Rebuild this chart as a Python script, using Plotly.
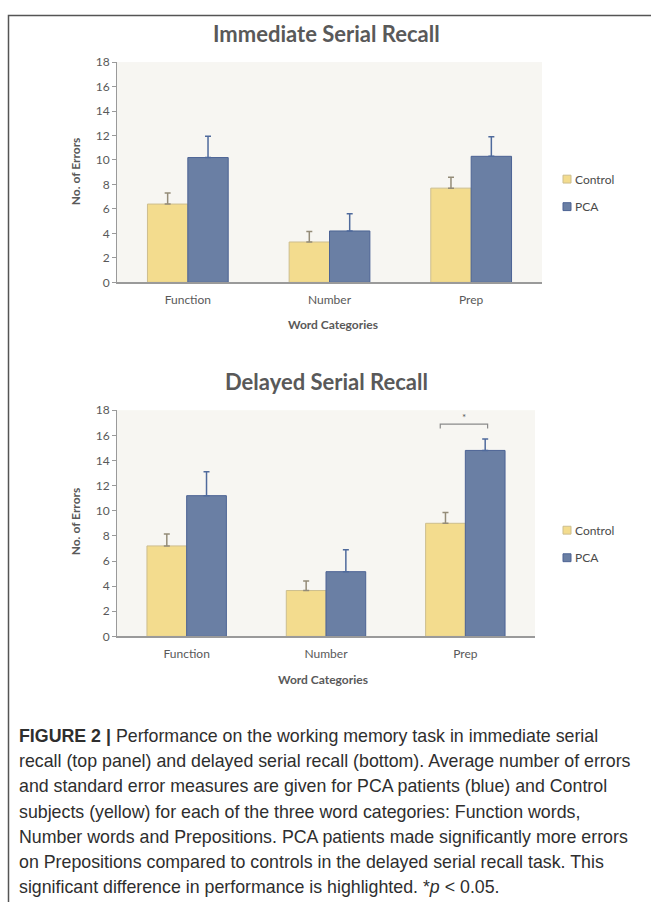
import plotly.graph_objects as go

# Word categories on the x axis
categories = ["Function", "Number", "Prep"]

# Immediate serial recall: mean errors and standard error
imm_control = [6.4, 3.3, 7.7]
imm_control_se = [0.9, 0.85, 0.9]
imm_pca = [10.2, 4.2, 10.3]
imm_pca_se = [1.75, 1.4, 1.6]

# Delayed serial recall: mean errors and standard error
del_control = [7.2, 3.65, 9.0]
del_control_se = [0.95, 0.75, 0.85]
del_pca = [11.2, 5.15, 14.8]
del_pca_se = [1.9, 1.75, 0.9]

y_ticks = list(range(0, 19, 2))
series_names = ["Control", "PCA"]

caption_lines = [
    "<b>FIGURE 2</b> <b>|</b> Performance on the working memory task in immediate serial",
    "recall (top panel) and delayed serial recall (bottom). Average number of errors",
    "and standard error measures are given for PCA patients (blue) and Control",
    "subjects (yellow) for each of the three word categories: Function words,",
    "Number words and Prepositions. PCA patients made significantly more errors",
    "on Prepositions compared to controls in the delayed serial recall task. This",
    "significant difference in performance is highlighted. *<i>p</i> &lt; 0.05.",
]

W, H = 651, 904
FONT = "Lato, 'Open Sans', sans-serif"
GREY = "#595959"
YELLOW = "#F3DC8E"
BLUE = "#6A7FA4"
COLORS = [YELLOW, BLUE]
EDGES = ["#CDBE8E", "#4C6394"]


def px_x(x):
    # pixel -> paper fraction
    return x / W


def px_y(y):
    return 1 - y / H


fig = go.Figure()


def add_bars(xa, ya, control, control_se, pca, pca_se):
    fig.add_trace(go.Bar(
        x=categories, y=control, name="Control", xaxis=xa, yaxis=ya, showlegend=False,
        marker=dict(color=YELLOW, line=dict(color=EDGES[0], width=1)),
        error_y=dict(type="data", array=control_se, arrayminus=[0] * len(control_se),
                     symmetric=False, color="#948C78", thickness=1.5, width=3),
    ))
    fig.add_trace(go.Bar(
        x=categories, y=pca, name="PCA", xaxis=xa, yaxis=ya, showlegend=False,
        marker=dict(color=BLUE, line=dict(color=EDGES[1], width=1)),
        error_y=dict(type="data", array=pca_se, arrayminus=[0] * len(pca_se),
                     symmetric=False, color="#4F6A9C", thickness=1.5, width=3),
    ))


add_bars("x", "y", imm_control, imm_control_se, imm_pca, imm_pca_se)
add_bars("x2", "y2", del_control, del_control_se, del_pca, del_pca_se)

xaxis_style = dict(
    type="category", showline=True, linecolor="#9A9A9A", linewidth=1.5,
    ticks="", showgrid=False, ticklabelstandoff=5,
    tickfont=dict(family=FONT, size=12, color=GREY),
)
yaxis_style = dict(
    range=[0, 18], tickvals=y_ticks, showline=True, linecolor="#9A9A9A",
    linewidth=1, ticks="outside", ticklen=4, tickcolor="#9A9A9A",
    showgrid=False, zeroline=False, tickfont=dict(family=FONT, size=12, color=GREY),
)

fig.update_layout(
    width=W, height=H,
    margin=dict(l=0, r=0, t=0, b=0),
    paper_bgcolor="white",
    plot_bgcolor="#F7F6F2",
    barmode="group", bargap=0.43, bargroupgap=0,
    xaxis=dict(domain=[px_x(117), px_x(542)], anchor="y", **xaxis_style),
    yaxis=dict(domain=[px_y(279), px_y(55)], anchor="x", **yaxis_style),
    xaxis2=dict(domain=[px_x(117), px_x(535)], anchor="y2", **xaxis_style),
    yaxis2=dict(domain=[px_y(639), px_y(409)], anchor="x2", **yaxis_style),
)


def note(text, x, y, size, **kw):
    fig.add_annotation(text=text, xref="paper", yref="paper", x=px_x(x), y=px_y(y),
                       xanchor=kw.pop("xanchor", "center"), yanchor="middle",
                       showarrow=False, font=dict(family=kw.pop("family", FONT), size=size,
                                                  color=kw.pop("color", GREY)), **kw)


# panel titles
note("<b>Immediate Serial Recall</b>", 326, 26, 22)
note("<b>Delayed Serial Recall</b>", 326, 380, 22)

# axis titles
note("<b>No. of Errors</b>", 75, 166, 12, textangle=-90)
note("<b>No. of Errors</b>", 75, 522, 12, textangle=-90)
note("<b>Word Categories</b>", 333, 322, 12)
note("<b>Word Categories</b>", 323, 683, 12)

# legends (small squares like the original)
for ly in [174, 531]:
    for i, name in enumerate(series_names):
        cy = ly + i * 28
        fig.add_shape(type="rect", xref="paper", yref="paper",
                      x0=px_x(563), x1=px_x(571), y0=px_y(cy + 4), y1=px_y(cy - 4),
                      fillcolor=COLORS[i], line=dict(color=EDGES[i], width=1))
        note(name, 573, cy, 12, xanchor="left", color="#4A4A4A")

# significance bracket over the Prep bars of the delayed panel
prep = categories.index("Prep")
top = max(del_control[prep] + del_control_se[prep], del_pca[prep] + del_pca_se[prep])
by = top + 1.2
fig.add_shape(type="path", xref="x2", yref="y2",
              path=f"M {prep - 0.18},{by - 0.35} L {prep - 0.18},{by} L {prep + 0.16},{by} L {prep + 0.16},{by - 0.35}",
              line=dict(color="#8A8A8A", width=1.2))
fig.add_annotation(text="*", xref="x2", yref="y2", x=prep - 0.01, y=by + 0.55,
                   showarrow=False, font=dict(family=FONT, size=10, color=GREY))

# frame around the figure (open on the right and bottom, as in the crop)
fig.add_shape(type="path", xref="paper", yref="paper",
              path=f"M {px_x(8.5)},{px_y(H + 5)} L {px_x(8.5)},{px_y(7.5)} L {px_x(W + 5)},{px_y(7.5)}",
              line=dict(color="#555555", width=1.5))

# caption, one annotation per line to match the spacing
for i, line in enumerate(caption_lines):
    note(line, 17, 740 + i * 25.7, 17.8, xanchor="left", align="left",
         family="'Liberation Sans', Arial, sans-serif", color="#2E2E2E")

# drop the default page margin so the figure fills the window exactly
fig.write_html("out.html", config={"displayModeBar": False},
               post_script="document.body.style.margin='0';document.body.style.overflow='hidden';")
